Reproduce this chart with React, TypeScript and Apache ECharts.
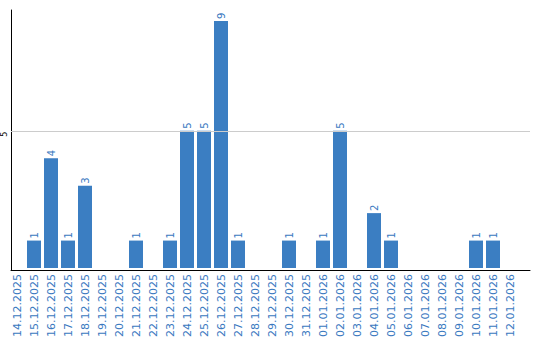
import React, { useEffect, useRef } from "react";
import * as echarts from "echarts";

const categories: string[] = [
  "14.12.2025", "15.12.2025", "16.12.2025", "17.12.2025", "18.12.2025",
  "19.12.2025", "20.12.2025", "21.12.2025", "22.12.2025", "23.12.2025",
  "24.12.2025", "25.12.2025", "26.12.2025", "27.12.2025", "28.12.2025",
  "29.12.2025", "30.12.2025", "31.12.2025", "01.01.2026", "02.01.2026",
  "03.01.2026", "04.01.2026", "05.01.2026", "06.01.2026", "07.01.2026",
  "08.01.2026", "09.01.2026", "10.01.2026", "11.01.2026", "12.01.2026",
];

const counts: number[] = [
  0, 1, 4, 1, 3,
  0, 0, 1, 0, 1,
  5, 5, 9, 1, 0,
  0, 1, 0, 1, 5,
  0, 2, 1, 0, 0,
  0, 0, 1, 1, 0,
];

const yTickLabels: number[] = [5];
const gridLineValues: number[] = [5];

const BLUE = "#3b7ec2";
const LABEL_BLUE = "#3a79bf";
const FONT = "DejaVu Sans";

export default function App() {
  const ref = useRef<HTMLDivElement>(null);

  useEffect(() => {
    if (!ref.current) return;
    const chart = echarts.init(ref.current, undefined, { renderer: "svg" });
    const yMax = 9.4;
    chart.setOption({
      animation: false,
      backgroundColor: "#ffffff",
      grid: [
        { left: 8.5, width: 510, top: 10, bottom: 70, containLabel: false },
        { left: 10, right: 10, top: 10, bottom: 70, containLabel: false },
      ],
      xAxis: [
        {
          type: "category",
          gridIndex: 0,
          data: categories,
          boundaryGap: true,
          axisLine: { show: false },
          axisTick: { show: false },
          splitLine: { show: false },
          axisLabel: {
            rotate: 90,
            interval: 0,
            margin: 6,
            color: LABEL_BLUE,
            fontFamily: FONT,
            fontSize: 11,
          },
        },
        {
          type: "value",
          gridIndex: 1,
          min: 0,
          max: 1,
          axisLine: { show: true, onZero: false, lineStyle: { color: "#000000", width: 1 } },
          axisTick: { show: false },
          axisLabel: { show: false },
          splitLine: { show: false },
        },
      ],
      yAxis: [
        {
          type: "value",
          gridIndex: 0,
          min: 0,
          max: yMax,
          show: false,
        },
        {
          type: "value",
          gridIndex: 1,
          min: 0,
          max: yMax,
          interval: 5,
          axisLine: { show: true, onZero: false, lineStyle: { color: "#000000", width: 1 } },
          axisTick: { show: false },
          splitLine: { show: false },
          axisLabel: {
            rotate: 90,
            margin: 3,
            align: "right",
            verticalAlign: "bottom",
            color: "#000000",
            fontFamily: FONT,
            fontSize: 8,
            formatter: (v: number) => (yTickLabels.includes(v) ? String(v) : ""),
          },
        },
      ],
      series: [
        {
          type: "line",
          xAxisIndex: 1,
          yAxisIndex: 1,
          data: [],
          z: 1,
          silent: true,
          markLine: {
            silent: true,
            symbol: "none",
            label: { show: false },
            lineStyle: { color: "#cccccc", width: 1, type: "solid" },
            data: gridLineValues.map((v) => ({ yAxis: v })),
          },
        },
        {
          type: "bar",
          xAxisIndex: 0,
          yAxisIndex: 0,
          data: counts,
          barWidth: 14,
          z: 3,
          itemStyle: { color: BLUE },
          label: {
            show: true,
            position: "top",
            distance: 2,
            rotate: 90,
            align: "left",
            verticalAlign: "middle",
            color: LABEL_BLUE,
            fontFamily: FONT,
            fontSize: 10,
            formatter: (p: any) => (p.value > 0 ? String(p.value) : ""),
          },
        },
      ],
    });
    return () => chart.dispose();
  }, []);

  return (
    <div
      ref={ref}
      style={{ position: "fixed", left: 0, top: 0, width: 540, height: 340, background: "#fff" }}
    />
  );
}
